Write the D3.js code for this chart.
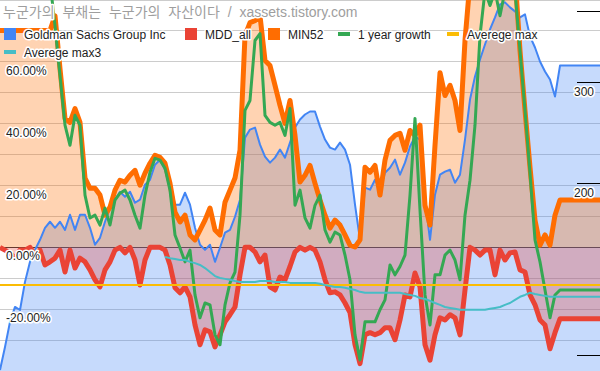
<!DOCTYPE html>
<html>
<head>
<meta charset="utf-8">
<script src="https://cdn.jsdelivr.net/npm/d3@7/dist/d3.min.js"></script>
<style>
  body { margin: 0; background: #fff; }
  svg { display: block; font-family: Arial, "Liberation Sans", "Noto Sans CJK KR", sans-serif; }
</style>
</head>
<body>
<div id="chart"></div>
<script>
// weekly samples, oldest first (last ones are the flat "today" values)
const goldman = [
  94.5, 103.7, 114.7, 121.8, 120.3, 134.7, 146.0, 153.2, 159.5, 167.4,
  171.5, 167.4, 171.5, 166.0, 176.4, 166.0, 176.4, 176.4, 167.4, 156.4,
  160.8, 171.5, 181.4, 187.4, 193.5, 189.7, 193.5, 185.1, 187.4, 199.0,
  203.1, 215.7, 220.1, 211.4, 201.5, 183.7, 183.7, 192.7, 183.7, 167.4,
  156.4, 153.2, 156.4, 146.0, 154.5, 164.1, 166.0, 175.0, 187.4, 240.5,
  248.4, 250.4, 233.8, 222.8, 217.5, 221.9, 229.2, 221.9, 235.7, 250.4,
  258.6, 263.9, 267.1, 267.1, 251.4, 238.6, 231.0, 229.2, 235.7, 229.2,
  215.7, 183.7, 159.5, 196.7, 195.1, 203.1, 195.1, 208.9, 213.1, 220.1,
  207.2, 217.5, 232.0, 241.5, 238.6, 187.4, 159.5, 191.2, 207.2, 209.8,
  211.4, 200.6, 207.2, 238.6, 280.3, 307.4, 329.2, 349.7, 371.5, 389.9,
  410.8, 414.2, 405.9, 399.4, 389.9, 394.6, 361.2, 345.5, 326.6, 313.7,
  303.8, 283.7, 321.3, 321.3, 321.3, 321.3, 321.3, 321.3, 321.3, 321.3,
  321.3
];

const mddAll = [
  0, -0.9, -1.8, -3.5, -0.9, -0.9, 0, -2.5, -0.9, -5.7,
  -4.7, -3.5, -0.9, -8.0, -0.9, -6.7, -3.5, -4.7, -7.3, -10.5,
  -12.8, -7.3, -4.7, -0.9, 0, -1.8, 0, -4.1, -12.2, -4.1,
  0, 0, 0, -0.9, -5.7, -13.1, -14.7, -12.8, -16.0, -25.1,
  -31.5, -26.7, -27.3, -32.2, -28.3, -24.1, -21.8, -19.3, -8.9, 0,
  0, -1.5, -4.7, -2.5, -12.8, -13.8, -9.6, -10.5, -6.2, -1.5,
  0, -0.9, 0, -0.9, -4.7, -10.5, -14.7, -14.4, -15.4, -18.0,
  -21.1, -31.5, -37.6, -28.3, -27.6, -28.3, -27.6, -26.0, -26.0, -29.9,
  -23.5, -15.4, -16.0, -8.3, -12.8, -31.5, -36.5, -28.3, -22.8, -23.5,
  -21.8, -22.8, -28.3, -13.8, 0, -0.9, -2.5, -0.9, -0.9, -8.9,
  -0.9, -4.1, -1.8, -1.5, -7.3, -8.0, -15.4, -18.6, -23.5, -25.1,
  -32.8, -27.6, -23.1, -23.1, -23.1, -23.1, -23.1, -23.1, -23.1, -23.1,
  -23.1
];

const min52 = [
  70.1, 70.1, 70.1, 70.1, 70.1, 70.1, 70.1, 70.1, 70.1, 70.1,
  70.1, 74.9, 57.8, 41.7, 40.4, 44.9, 40.4, 22.4, 19.1, 19.1,
  16.9, 10.4, 13.0, 18.5, 21.7, 21.1, 23.3, 24.9, 20.1, 24.0,
  27.2, 29.8, 29.1, 27.2, 20.7, 11.4, 8.2, 10.4, 4.0, 2.4,
  5.6, 8.8, 12.7, 5.6, 4.0, 14.6, 18.5, 22.4, 31.4, 68.5,
  72.7, 73.3, 74.9, 60.4, 58.8, 52.4, 45.9, 40.1, 47.5, 36.2,
  21.1, 23.3, 26.5, 20.7, 15.3, 10.4, 6.2, 8.8, 7.2, 4.0,
  0.7, 0.1, 2.4, 25.9, 24.3, 26.5, 16.9, 28.2, 34.6, 36.2,
  36.9, 31.4, 37.8, 36.2, 39.5, 13.6, 7.2, 33.0, 56.5, 49.1,
  52.4, 47.5, 37.8, 66.9, 86, 92, 95, 97, 95, 98,
  100, 97, 94, 88, 63.6, 44.3, 25.9, 8.8, 0.7, 4.0,
  0.7, 10.4, 15.3, 15.3, 15.3, 15.3, 15.3, 15.3, 15.3, 15.3,
  15.3
];

const growth1y = [
  88, 90, 93, 95, 97, 98, 96, 94, 92, 90,
  86, 71.7, 55.6, 39.5, 33.0, 42.7, 39.5, 16.9, 9.5, 10.4,
  7.2, 12.7, 7.2, 15.3, 17.5, 18.5, 15.3, 10.4, 6.2, 16.9,
  24.3, 28.8, 28.2, 25.6, 18.5, 4.0, -0.2, -4.7, -0.9, -15.4,
  -22.8, -18.0, -18.6, -28.3, -31.5, -18.6, -11.5, -8.0, 10.4, 44.3,
  47.5, 66.9, 69.1, 42.7, 40.4, 39.5, 40.4, 36.2, 44.9, 13.6,
  18.5, 9.5, 6.2, 13.6, 16.9, 5.6, 1.7, 4.9, 4.0, -2.5,
  -10.5, -28.3, -36.4, -24.1, -24.1, -24.1, -20.2, -17.0, -5.7, -8.9,
  -6.2, -2.5, 16.9, 41.7, 12.0, -15.4, -25.1, -8.9, -8.9, -2.5,
  -0.9, -4.1, -10.5, 10.4, 21.7, 39.5, 68.5, 83, 78.2, 83,
  74.9, 83, 86, 83, 63.6, 44.3, 24.0, 2.4, -4.7, -13.8,
  -22.8, -15.4, -13.8, -13.8, -13.8, -13.8, -13.8, -13.8, -13.8, -13.8,
  -13.8
];

const avgMax = -12.2;

const avgMax3 = [
  null, null, null, null, null, null, null, null, null, null,
  null, null, null, null, null, null, null, null, null, null,
  null, null, null, null, null, null, null, null, null, null,
  null, null, null, -3.1, -3.5, -3.8, -4.1, -4.1, -4.7, -5.1,
  -5.7, -6.7, -8.0, -9.3, -9.9, -10.2, -10.5, -10.9, -11.2, -11.2,
  -11.2, -11.2, -10.9, -10.9, -10.9, -11.2, -11.2, -11.2, -11.5, -11.5,
  -11.5, -11.5, -11.5, -11.5, -11.8, -12.2, -12.5, -12.8, -12.8, -13.1,
  -13.5, -13.8, -14.4, -14.7, -14.7, -14.7, -14.7, -14.7, -14.7, -14.7,
  -14.7, -15.1, -15.4, -15.7, -16.4, -16.7, -17.3, -18.0, -18.6, -19.3,
  -19.6, -19.9, -20.2, -20.2, -20.2, -20.2, -20.2, -20.2, -19.9, -19.6,
  -19.3, -18.6, -18.0, -17.0, -16.0, -15.4, -14.7, -15.1, -15.4, -15.7,
  -16.0, -16.0, -16.0, -16.0, -16.0, -16.0, -16.0, -16.0, -16.0, -16.0,
  -16.0
];

const seriesNames = ["Goldman Sachs Group Inc", "MDD_all", "MIN52", "1 year growth", "Averege max", "Averege max3"];
const seriesColors = ["#4285f4", "#ea4335", "#ff6d01", "#34a853", "#fbbc04", "#46bdc6"];
const pctTicks = [60, 40, 20, 0, -20];
const priceTicks = [100, 200, 300, 400];
const priceLabels = [300, 200];
const title = "누군가의 부채는 누군가의 자산이다 / xassets.tistory.com";

const width = 600;
const height = 371;

const x = d3.scaleLinear().domain([0, goldman.length - 1]).range([0, width]);
const yPct = d3.scaleLinear().domain([-40, 80]).range([height, 0]);
const yPrice = d3.scaleLog().domain([94.15, 418.1]).range([height, 0]);

const svg = d3.create("svg")
    .attr("width", width)
    .attr("height", height);

const crisp = v => Math.floor(v) + 0.5;

// gridlines (left axis, every 10%)
svg.append("g")
  .selectAll("line")
  .data(d3.range(-40, 81, 10).filter(d => d !== 0))
  .join("line")
    .attr("x1", 0).attr("x2", width)
    .attr("y1", d => crisp(yPct(d))).attr("y2", d => crisp(yPct(d)))
    .attr("stroke", "#cccccc");

// zero baseline
svg.append("line")
    .attr("x1", 0).attr("x2", width)
    .attr("y1", crisp(yPct(0))).attr("y2", crisp(yPct(0)))
    .attr("stroke", "#333");

// areas
const blueArea = d3.area()
    .x((d, i) => x(i))
    .y0(height)
    .y1(d => yPrice(d));

const pctArea = d3.area()
    .x((d, i) => x(i))
    .y0(yPct(0))
    .y1(d => yPct(d));

svg.append("path").attr("d", blueArea(goldman))
    .attr("fill", seriesColors[0]).attr("fill-opacity", 0.3);
svg.append("path").attr("d", pctArea(mddAll))
    .attr("fill", seriesColors[1]).attr("fill-opacity", 0.3);
svg.append("path").attr("d", pctArea(min52))
    .attr("fill", seriesColors[2]).attr("fill-opacity", 0.3);

// lines
const priceLine = d3.line().x((d, i) => x(i)).y(d => yPrice(d));
const pctLine = d3.line()
    .defined(d => d !== null)
    .x((d, i) => x(i))
    .y(d => yPct(d));

const lines = [
  { d: priceLine(goldman), color: seriesColors[0], w: 2 },
  { d: pctLine(mddAll), color: seriesColors[1], w: 5 },
  { d: pctLine(min52), color: seriesColors[2], w: 5 },
  { d: pctLine(growth1y), color: seriesColors[3], w: 3 },
  { d: pctLine(goldman.map(() => avgMax)), color: seriesColors[4], w: 2 },
  { d: pctLine(avgMax3), color: seriesColors[5], w: 2 }
];

svg.append("g")
  .selectAll("path")
  .data(lines)
  .join("path")
    .attr("d", d => d.d)
    .attr("fill", "none")
    .attr("stroke", d => d.color)
    .attr("stroke-width", d => d.w)
    .attr("stroke-linejoin", "round");

// right axis tick marks
svg.append("g")
  .selectAll("line")
  .data(priceTicks)
  .join("line")
    .attr("x1", 577).attr("x2", width)
    .attr("y1", d => crisp(yPrice(d))).attr("y2", d => crisp(yPrice(d)))
    .attr("stroke", "#000");

const halo = sel => sel
    .attr("stroke", "#fff")
    .attr("stroke-width", 3)
    .attr("stroke-linejoin", "round")
    .attr("paint-order", "stroke");

// axis labels (inside the chart)
svg.append("g")
  .selectAll("text")
  .data(pctTicks)
  .join("text")
    .attr("x", 6)
    .attr("y", d => yPct(d) + 13)
    .attr("font-size", 12)
    .attr("fill", "#222")
    .text(d => d.toFixed(2) + "%")
    .call(halo);

svg.append("g")
  .selectAll("text")
  .data(priceLabels)
  .join("text")
    .attr("x", 594)
    .attr("y", d => yPrice(d) + 13)
    .attr("text-anchor", "end")
    .attr("font-size", 12)
    .attr("fill", "#222")
    .text(d => d)
    .call(halo);

// title
svg.append("text")
    .attr("x", 3)
    .attr("y", 17)
    .attr("font-size", 14)
    .attr("word-spacing", 4)
    .attr("fill", "#9e9e9e")
    .text(title)
    .call(halo);

// legend
const legendPos = [[4, 34], [185, 34], [268, 34], [338, 34], [447, 34], [4, 52]];
const legend = svg.append("g")
  .selectAll("g")
  .data(seriesNames)
  .join("g")
    .attr("transform", (d, i) => `translate(${legendPos[i][0]},${legendPos[i][1]})`);

legend.append("rect")
    .attr("x", 0)
    .attr("y", (d, i) => i < 3 ? -6 : -2)
    .attr("width", 12)
    .attr("height", (d, i) => i < 3 ? 12 : 4)
    .attr("fill", (d, i) => seriesColors[i]);

legend.append("text")
    .attr("x", 20)
    .attr("y", 4.5)
    .attr("font-size", 12)
    .attr("fill", "#222")
    .text(d => d)
    .call(halo);

document.getElementById("chart").append(svg.node());
</script>
</body>
</html>
